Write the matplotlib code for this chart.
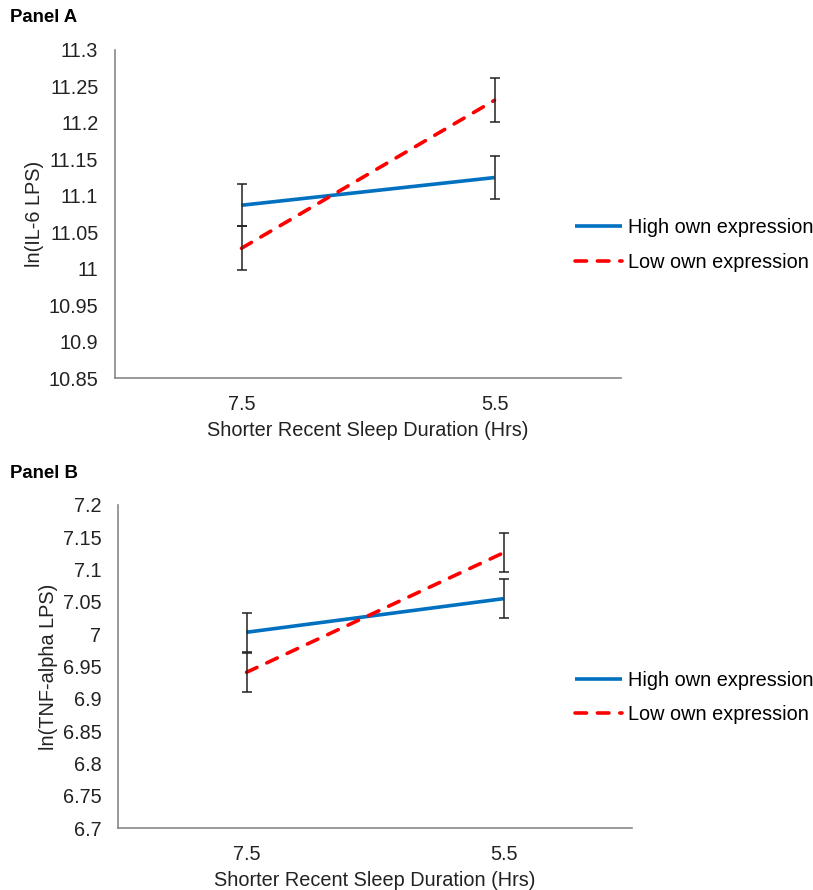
import numpy as np
import matplotlib.pyplot as plt

plt.rcParams['font.family'] = ['Liberation Sans', 'DejaVu Sans']

# Kategorien auf der x-Achse
sleep_labels = ['7.5', '5.5']
series_names = ['High own expression', 'Low own expression']

# Panel A: ln(IL-6 LPS)
il6_high = [11.087, 11.125]
il6_low = [11.028, 11.231]
il6_high_err = [0.029, 0.030]
il6_low_err = [0.030, 0.030]
il6_ticks = [10.85, 10.9, 10.95, 11, 11.05, 11.1, 11.15, 11.2, 11.25, 11.3]

# Panel B: ln(TNF-alpha LPS)
tnf_high = [7.003, 7.055]
tnf_low = [6.941, 7.126]
tnf_high_err = [0.030, 0.030]
tnf_low_err = [0.030, 0.030]
tnf_ticks = [6.7, 6.75, 6.8, 6.85, 6.9, 6.95, 7, 7.05, 7.1, 7.15, 7.2]

BLUE = '#0070C0'
RED = '#FF0000'
W, H = 813, 890
FS = 14.3


def panel(rect, high, low, high_err, low_err, ticks, ylabel, title, title_y, leg_y):
    l, t, r, b = rect
    ax = fig.add_axes([l / W, 1 - b / H, (r - l) / W, (b - t) / H])
    x = np.arange(len(sleep_labels))
    ax.plot(x, high, color=BLUE, lw=2.6, solid_capstyle='butt', label=series_names[0])
    ax.plot(x, low, color=RED, lw=2.6, dashes=(3.2, 3.0), dash_capstyle='round',
            label=series_names[1])
    ax.errorbar(x, high, yerr=high_err, fmt='none', ecolor='#222222', elinewidth=1.1,
                capsize=3.5, capthick=1.1)
    ax.errorbar(x, low, yerr=low_err, fmt='none', ecolor='#222222', elinewidth=1.1,
                capsize=3.5, capthick=1.1)
    ax.set_xlim(-0.5, 1.5)
    ax.set_ylim(ticks[0], ticks[-1])
    ax.set_xticks(x)
    ax.set_xticklabels(sleep_labels)
    ax.set_yticks(ticks)
    ax.set_yticklabels(['%g' % v for v in ticks])
    ax.tick_params(axis='both', length=0, labelsize=FS, colors='#222222')
    ax.tick_params(axis='x', pad=12)
    ax.tick_params(axis='y', pad=12)
    for s in ['top', 'right']:
        ax.spines[s].set_visible(False)
    for s in ['left', 'bottom']:
        ax.spines[s].set_color('#888888')
        ax.spines[s].set_linewidth(1.2)
    ax.set_xlabel('Shorter Recent Sleep Duration (Hrs)', fontsize=FS, labelpad=5,
                  color='#222222')
    ax.set_ylabel(ylabel, fontsize=FS, labelpad=3, color='#222222')
    fig.text(10 / W, 1 - title_y / H, title, fontsize=13.4, fontweight='bold',
             va='center', ha='left')
    h, lb = ax.get_legend_handles_labels()
    fig.legend(h, lb, loc='center left', bbox_to_anchor=(575 / W, 1 - leg_y / H),
               frameon=False, fontsize=FS, handlelength=2.36, handletextpad=0.3,
               labelspacing=0.8, borderpad=0, borderaxespad=0)
    return ax


fig = plt.figure(figsize=(W / 100, H / 100), dpi=100)
panel((115, 50, 621, 378), il6_high, il6_low, il6_high_err, il6_low_err, il6_ticks,
      'ln(IL-6 LPS)', 'Panel A', 18, 245)
panel((118, 505, 632, 828), tnf_high, tnf_low, tnf_high_err, tnf_low_err, tnf_ticks,
      'ln(TNF-alpha LPS)', 'Panel B', 473, 697.5)

fig.savefig('out.png', dpi=100)
